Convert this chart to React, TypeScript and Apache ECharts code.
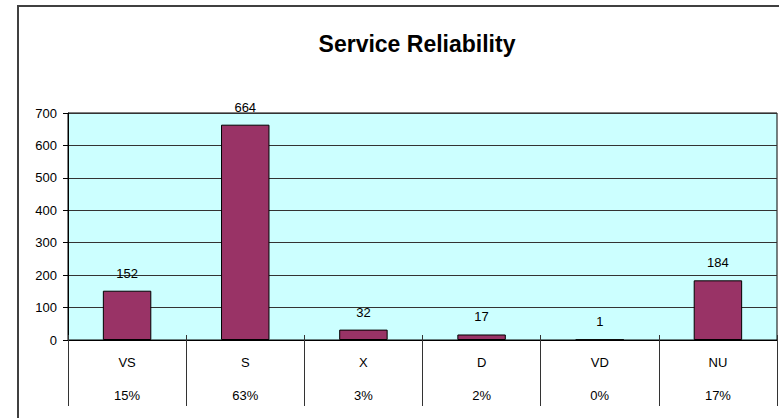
import React, { useEffect, useRef } from "react";
import * as echarts from "echarts";

const titleText = "Service Reliability";
const categories = ["VS", "S", "X", "D", "VD", "NU"];
const percents = ["15%", "63%", "3%", "2%", "0%", "17%"];
const values = [152, 664, 32, 17, 1, 184];
const yMin = 0;
const yMax = 700;
const yInterval = 100;

const FONT = "'Liberation Sans', Arial, sans-serif";

export default function App() {
  const ref = useRef<HTMLDivElement>(null);
  useEffect(() => {
    if (!ref.current) return;
    const chart = echarts.init(ref.current, undefined, { renderer: "svg" });
    chart.setOption({
      animation: false,
      backgroundColor: "#ffffff",
      textStyle: { fontFamily: FONT },
      title: {
        text: titleText,
        left: 412,
        top: 27,
        textAlign: "center",
        textStyle: { fontFamily: FONT, fontWeight: "bold", fontSize: 23, color: "#000" },
      },
      graphic: [
        {
          type: "rect",
          shape: { x: 18, y: 6, width: 900, height: 600 },
          style: { fill: "none", stroke: "#404040", lineWidth: 2 },
          silent: true,
          z: 100,
        },
      ],
      grid: {
        left: 68,
        top: 113,
        right: 2,
        bottom: 78,
        show: true,
        backgroundColor: "#CCFFFF",
        borderColor: "#000",
        borderWidth: 1,
        containLabel: false,
      },
      xAxis: [
        {
          type: "category",
          data: categories,
          position: "bottom",
          axisLine: { show: true, lineStyle: { color: "#000", width: 1 } },
          axisTick: { show: true, interval: 0, length: 66, lineStyle: { color: "#333" } },
          splitLine: { show: false },
          axisLabel: {
            interval: 0,
            margin: 6,
            color: "#000",
            fontFamily: FONT,
            fontSize: 13,
            formatter: (v: string, i: number) => `{a|${v}}\n{a|${percents[i]}}`,
            rich: { a: { fontFamily: FONT, fontSize: 13, lineHeight: 33, color: "#000" } },
          },
        },
        {
          type: "category",
          data: categories,
          position: "bottom",
          offset: 0,
          axisLine: { show: false },
          axisTick: { show: true, inside: true, interval: 0, length: 5, lineStyle: { color: "#333" } },
          axisLabel: { show: false },
          splitLine: { show: false },
        },
      ],
      yAxis: {
        type: "value",
        min: yMin,
        max: yMax,
        interval: yInterval,
        axisLine: { show: true, lineStyle: { color: "#000" } },
        axisTick: { show: true, length: 5, lineStyle: { color: "#000" } },
        splitLine: { show: true, lineStyle: { color: "#333", width: 1 } },
        axisLabel: { color: "#000", fontFamily: FONT, fontSize: 13, margin: 11 },
      },
      series: [
        {
          type: "bar",
          data: values,
          barWidth: "41%",
          itemStyle: { color: "#993366", borderColor: "#000", borderWidth: 1 },
          label: {
            show: true,
            position: "top",
            distance: 11,
            color: "#000",
            fontFamily: FONT,
            fontSize: 13,
          },
        },
      ],
    });
    return () => chart.dispose();
  }, []);
  return (
    <div
      ref={ref}
      style={{ position: "absolute", left: 0, top: 0, width: 779, height: 418 }}
    />
  );
}
